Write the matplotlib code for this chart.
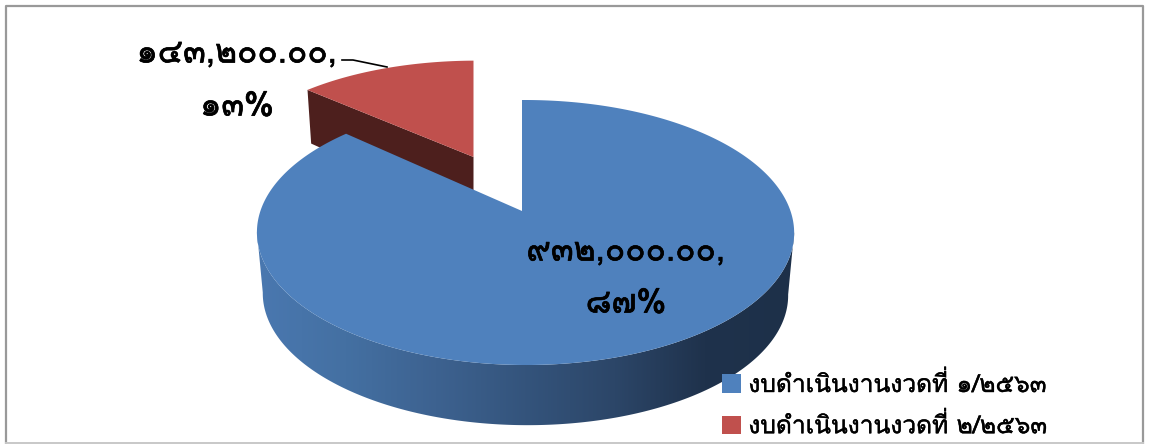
import numpy as np
import matplotlib
matplotlib.use("Agg")
import matplotlib.pyplot as plt
import matplotlib.patheffects as pe
from matplotlib import font_manager as fm
from matplotlib.colors import LinearSegmentedColormap
from matplotlib.patches import Patch, Polygon
from matplotlib.ft2font import FT2Font

# ===============================
# dados
# ===============================
categorias = ["งบดำเนินงานงวดที่ ๑/๒๕๖๓", "งบดำเนินงานงวดที่ ๒/๒๕๖๓"]
valores = [932000.00, 143200.00]
rotulos_valor = ["๙๓๒,๐๐๐.๐๐,", "๑๔๓,๒๐๐.๐๐,"]
rotulos_pct = ["๘๗%", "๑๓%"]
cores = ["#4f81bd", "#c0504d"]


# procura uma fonte com dígitos tailandeses
def fonte_thai():
    for f in fm.fontManager.ttflist:
        try:
            mapa = FT2Font(f.fname).get_charmap()
        except Exception:
            continue
        if 0x0E51 in mapa and 0x0E07 in mapa:
            return f.name
    return "DejaVu Sans"


FONTE = fonte_thai()
plt.rcParams["font.family"] = [FONTE, "DejaVu Sans"]

fig = plt.figure(figsize=(11.49, 4.44), dpi=100)
ax = fig.add_axes([0, 0, 1, 1])
ax.axis("off")

# moldura
ax.plot([6, 6, 1143, 1143], [443, 6.5, 6.5, 443], color="#999999", lw=1.6, zorder=1)
ax.plot([6, 1143], [443, 443], color="#c8c8c8", lw=1.4, zorder=1)


def projeta(theta, r, c, f, g, d, z=0.0, a=0.0, k=0.1623, m=0.013):
    # theta em radianos, horário a partir do topo
    X = r * np.sin(theta)
    Y = r * np.cos(theta)
    w = 1 + k * Y - m * X
    encolhe = 1 - 0.022 * z
    return c[0] + f * X / w * encolhe, c[1] + (-g * Y * (1 - a * z) + d * z) / w


frac = np.array(valores) / sum(valores)
ang_fim = 2 * np.pi * frac[0]

# ===============================
# fatia pequena (destacada), vem antes
# ===============================
p = dict(c=(473.5, 157), f=250, g=112, d=60)
t2 = np.linspace(ang_fim, 2 * np.pi, 80)
xa, ya = projeta(np.array([ang_fim]), 1, **p)
xa2, ya2 = projeta(np.array([ang_fim]), 1, z=1, **p)
xb, yb = p["c"]
xb2, yb2 = projeta(np.array([0.0]), 0, z=1, **p)
ax.add_patch(Polygon([(xa[0], ya[0]), (xb, yb), (xb2[0], yb2[0]), (xa2[0], ya2[0])],
                     fc="#4d1f1d", ec="none", zorder=2))
xt, yt = projeta(t2, 1, **p)
ax.add_patch(Polygon(np.r_[[[xb, yb]], np.c_[xt, yt]], fc=cores[1], ec="none", zorder=3))

# ===============================
# fatia grande
# ===============================
p1 = dict(c=(522, 211), f=265, g=129, d=62, a=0.09)
cmap = LinearSegmentedColormap.from_list(
    "lado", ["#4a78b0", "#4470a2", "#3d6290", "#34547c", "#2c4668", "#1f324c", "#1d3049"])
t1 = np.linspace(0, ang_fim, 500)
xs, ys = projeta(t1, 1, **p1)

# parede lateral: gradiente recortado, de um extremo do disco ao outro
frente = np.radians(np.linspace(99, 261, 300))
xf, yf = projeta(frente, 1, **p1)
xi, yi = projeta(frente, 1, z=1, **p1)
parede = Polygon(np.r_[np.c_[xf, yf], np.c_[xi, yi][::-1]], fc="none", ec="none",
                 transform=ax.transData)
ax.add_patch(parede)
grad = np.linspace(0, 1, 256).reshape(1, -1)
im = ax.imshow(grad, cmap=cmap, extent=(256, 795, 444, 200), aspect="auto", zorder=4)
im.set_clip_path(parede)

ax.add_patch(Polygon(np.r_[[[p1["c"][0], p1["c"][1]]], np.c_[xs, ys]], fc=cores[0], ec="none", zorder=5))

# ===============================
# rótulos
# ===============================
grosso = [pe.withStroke(linewidth=0.5, foreground="black")]
kw = dict(ha="center", va="center", fontsize=24, color="black", zorder=7, path_effects=grosso)
ax.text(626, 252, rotulos_valor[0], **kw)
ax.text(626, 304, rotulos_pct[0], **kw)
ax.text(237, 54, rotulos_valor[1], **kw)
ax.text(237, 107, rotulos_pct[1], **kw)
ax.plot([342, 353, 387], [60, 60, 67], color="black", lw=1.2, zorder=6)

ax.set_xlim(0, 1149)
ax.set_ylim(444, 0)

# ===============================
# legenda
# ===============================
alcas = [Patch(fc=cores[0], ec="none"), Patch(fc=cores[1], ec="none")]
leg = ax.legend(alcas, categorias, loc="upper left", bbox_to_anchor=(722 / 1149, 1 - 372 / 444),
                fontsize=17.7, frameon=False, handlelength=0.77, handleheight=0.77,
                handletextpad=0.3, labelspacing=0.66, borderpad=0, borderaxespad=0)
leg.set_zorder(8)
for txt in leg.get_texts():
    txt.set_path_effects([pe.withStroke(linewidth=0.3, foreground="black")])

fig.savefig("out.png", dpi=100)
